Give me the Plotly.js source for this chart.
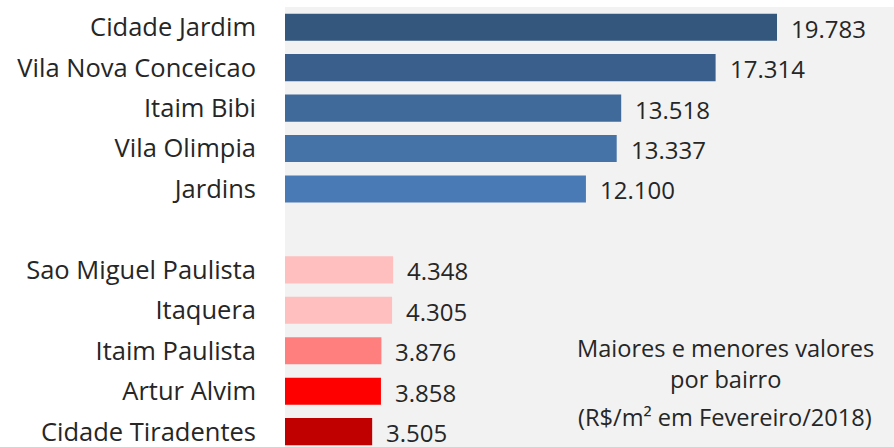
<!DOCTYPE html>
<html>
<head>
<meta charset="utf-8">
<script src="https://cdn.plot.ly/plotly-3.0.1.min.js"></script>
<style>html,body{margin:0;padding:0;background:#fff;}#chart{width:894px;height:447px;}</style>
</head>
<body>
<div id="chart"></div>
<script>
const bairros = ['Cidade Jardim','Vila Nova Conceicao','Itaim Bibi','Vila Olimpia','Jardins',' ','Sao Miguel Paulista','Itaquera','Itaim Paulista','Artur Alvim','Cidade Tiradentes'];
const valores = [19783, 17314, 13518, 13337, 12100, null, 4348, 4305, 3876, 3858, 3505];
const cores = ['#33577D','#3A5F8C','#406A9A','#4572A7','#4A7AB5','#FFFFFF','#FFBFBF','#FFBFBF','#FF7F7F','#FF0000','#C00000'];
const notaLinhas = ['Maiores e menores valores','por bairro','(R$/m² em Fevereiro/2018)'];

function fmt(v){ return String(v).replace(/\B(?=(\d{3})+(?!\d))/g, '.'); }

const BASE = {family: 'Open Sans, sans-serif', color: '#262626'};
const FONT_VAL = Object.assign({}, BASE, {size: 24});
const FONT_TICK = Object.assign({}, BASE, {size: 25.5});
const FONT_NOTA = Object.assign({}, BASE, {size: 23.6});

const annotations = [];
bairros.forEach((b, i) => {
  if (valores[i] === null) return;
  annotations.push({
    x: valores[i], y: b, xref: 'x', yref: 'y', text: fmt(valores[i]),
    showarrow: false, xanchor: 'left', yanchor: 'middle', xshift: 13, yshift: -1, borderpad: 0,
    font: FONT_VAL
  });
});
const notaY = [0.226, 0.155, 0.068];
notaLinhas.forEach((t, k) => {
  annotations.push({
    x: 0.7225, y: notaY[k], xref: 'paper', yref: 'paper', text: t,
    showarrow: false, xanchor: 'center', yanchor: 'middle', font: FONT_NOTA
  });
});

const data = [{
  type: 'bar', orientation: 'h', y: bairros, x: valores,
  marker: {color: cores}, width: 0.67, hoverinfo: 'none'
}];

const layout = {
  width: 894, height: 447,
  margin: {l: 285, r: 0, t: 7, b: 0, pad: 0},
  paper_bgcolor: '#FFFFFF', plot_bgcolor: '#F2F2F2',
  showlegend: false,
  font: FONT_VAL,
  xaxis: {range: [0, 24487], showgrid: false, zeroline: false, showticklabels: false, showline: false, fixedrange: true},
  yaxis: {type: 'category', categoryorder: 'array', categoryarray: bairros, range: [10.38, -0.5],
          showgrid: false, zeroline: false, showline: false, ticks: '', ticklabelstandoff: 28,
          tickfont: FONT_TICK, fixedrange: true},
  annotations: annotations
};

Plotly.newPlot('chart', data, layout, {displayModeBar: false, staticPlot: true});
</script>
</body>
</html>
